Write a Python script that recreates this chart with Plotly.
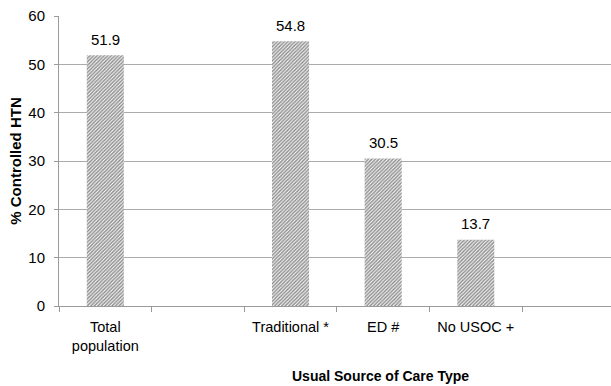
import plotly.graph_objects as go

categories = ["Total<br>population", " ", "Traditional *", "ED #", "No USOC +", "  "]
values = [51.9, None, 54.8, 30.5, 13.7, None]
labels = ["51.9", "", "54.8", "30.5", "13.7", ""]

FONT = "Liberation Sans, Arial"

fig = go.Figure()
fig.add_trace(go.Bar(
    x=categories,
    y=values,
    width=0.4,
    marker=dict(
        color="#ffffff",
        line=dict(width=0),
        pattern=dict(shape="/", fgcolor="#222222", bgcolor="#ffffff",
                     size=2.5, solidity=0.6),
    ),
))

# value labels above each bar
value_notes = [
    dict(x=c, y=v, text=t, xref="x", yref="y", showarrow=False,
         yanchor="middle", yshift=16, font=dict(family=FONT, size=15))
    for c, v, t in zip(categories, values, labels) if v is not None
]

fig.update_layout(
    width=611, height=386,
    margin=dict(l=59, r=0, t=16, b=80),
    paper_bgcolor="#ffffff",
    plot_bgcolor="#ffffff",
    showlegend=False,
    font=dict(family=FONT, size=15, color="#000000"),
    xaxis=dict(
        type="category",
        range=[-0.5, 5.46],
        showgrid=False,
        showline=True, linecolor="#9a9a9a", linewidth=1,
        ticks="outside", ticklen=5, tickcolor="#9a9a9a",
        tickson="boundaries",
        ticklabelstandoff=8,
        tickfont=dict(size=14.5),
    ),
    yaxis=dict(
        range=[0, 60],
        dtick=10,
        showgrid=True, gridcolor="#ababab", gridwidth=1,
        showline=True, linecolor="#9a9a9a", linewidth=1,
        ticks="outside", ticklen=4, tickcolor="#9a9a9a",
        ticklabelstandoff=6,
        tickfont=dict(size=15),
        zeroline=False,
        title=dict(text="<b>% Controlled HTN</b>", font=dict(size=15), standoff=3),
    ),
    annotations=value_notes + [dict(
        text="<b>Usual Source of Care Type</b>",
        xref="paper", yref="paper", x=0.583, y=(306 - 376) / 290,
        xanchor="center", yanchor="middle", showarrow=False,
        font=dict(size=14),
    )],
)

fig.write_html("out.html")
